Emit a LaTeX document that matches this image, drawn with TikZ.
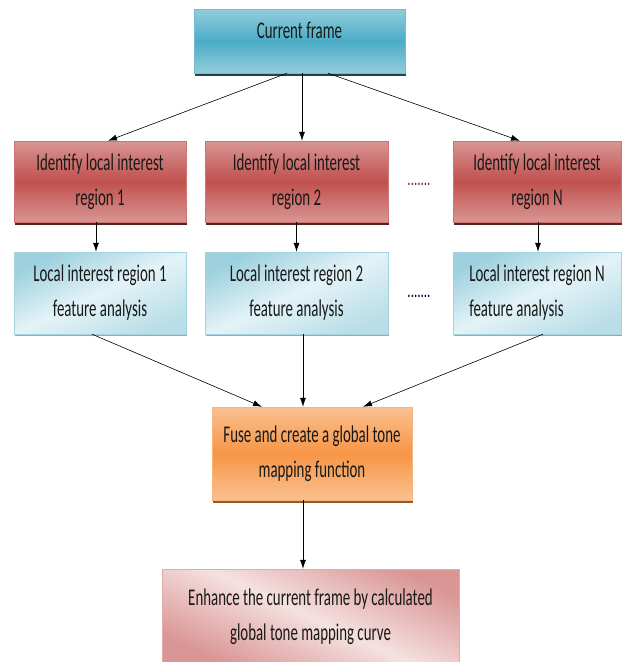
\documentclass[tikz,border=0pt]{standalone}
\usepackage{fontspec}
\setmainfont{Carlito}[FakeStretch=0.62]
\usepackage{tikz}
\usetikzlibrary{shadows,arrows.meta}

\definecolor{framemid}{HTML}{4BACC6}
\definecolor{frameedge}{HTML}{93CDDD}
\definecolor{regmid}{HTML}{C0504D}
\definecolor{regedge}{HTML}{D99694}
\definecolor{featdark}{HTML}{9CD0DE}
\definecolor{featlight}{HTML}{E4F3F7}
\definecolor{fusemid}{HTML}{F79646}
\definecolor{fuseedge}{HTML}{FAC090}
\definecolor{enhdark}{HTML}{D99694}
\definecolor{enhlight}{HTML}{F5E1E1}

\begin{document}
\begin{tikzpicture}[x=1pt,y=-1pt,
  box/.style={draw,inner sep=0pt,align=center,font=\fontsize{24}{35}\selectfont,text=black!90},
  framebox/.style={box,draw=framemid!80,top color=frameedge,bottom color=frameedge,middle color=framemid,
    drop shadow={shadow xshift=1pt,shadow yshift=-3pt,fill=framemid!40!black,opacity=1}},
  regbox/.style={box,draw=regmid!80,top color=regedge,bottom color=regedge,middle color=regmid,
    minimum height=81pt,drop shadow={shadow xshift=1pt,shadow yshift=-3pt,fill=regmid!45!black,opacity=1}},
  featbox/.style={box,draw=featdark!90,top color=featdark,bottom color=featdark!70,middle color=featlight,
    shading angle=25,minimum height=82pt,drop shadow={shadow xshift=1pt,shadow yshift=-2pt,fill=black!35,opacity=1}},
  fusebox/.style={box,draw=fusemid!70,top color=fuseedge,bottom color=fuseedge,middle color=fusemid,
    drop shadow={shadow xshift=1pt,shadow yshift=-3pt,fill=fusemid!60!black,opacity=1}},
  enhbox/.style={box,draw=enhdark!80,top color=enhdark,bottom color=enhdark,middle color=enhlight,shading angle=-25},
  dots/.style={font=\fontsize{21}{21}\selectfont},
  >={Latex[length=9pt,width=6pt]}]
  \useasboundingbox (0,0) rectangle (623,662);
  \clip (0,0) rectangle (623,662);

  \node [framebox,minimum width=211pt,minimum height=64pt,text depth=22pt] (cur) at (299.5,41) {Current frame};

  \node [regbox,minimum width=172pt] (id1) at (100,181.5) {Identify local interest\\region 1};
  \node [regbox,minimum width=183pt] (id2) at (296.5,181.5) {Identify local interest\\region 2};
  \node [regbox,minimum width=168pt] (idN) at (537,181.5) {Identify local interest\\region N};

  \node [featbox,minimum width=172pt] (lf1) at (100,293) {Local interest region 1\\feature analysis};
  \node [featbox,minimum width=183pt] (lf2) at (296.5,293) {Local interest region 2\\feature analysis};
  \node [featbox,minimum width=168pt,align=left] (lfN) at (537,293) {Local interest region N\\feature analysis};

  \node [dots,text=regmid!60!black] (d1) at (419,184) {.......};
  \node [dots,text=black!80!blue] (d2) at (419,296) {.......};

  \node [fusebox,minimum width=200pt,minimum height=93pt] (fuse) at (312,453.5) {Fuse and create a global tone\\mapping function};

  \node [enhbox,minimum width=297pt,minimum height=95pt] (enh) at (310.5,616.5) {Enhance the current frame by calculated\\global tone mapping curve};

  % current frame to the regions
  \path [->,semithick] ([xshift=-12.5pt]cur.south) edge ([xshift=8pt]id1.north)
    ([xshift=2.5pt]cur.south) edge ([xshift=5.5pt]id2.north)
    ([xshift=28.5pt]cur.south) edge ([xshift=-17pt]idN.north);
  \path [->,semithick] ([xshift=-4pt]id1.south) edge ([xshift=-4pt]lf1.north)
    (id2.south) edge (lf2.north)
    ([xshift=1pt]idN.south) edge ([xshift=1pt]lfN.north);
  % features into the fusion step
  \path [->,semithick] ([xshift=-8pt]lf1.south) edge ([xshift=-50pt]fuse.north)
    ([xshift=6.5pt]lf2.south) edge ([xshift=-9pt]fuse.north)
    ([xshift=6pt]lfN.south) edge ([xshift=51pt]fuse.north);
  \draw [->,semithick] ([xshift=-9pt]fuse.south) -- ([xshift=-7.5pt]enh.north);
\end{tikzpicture}
\end{document}
